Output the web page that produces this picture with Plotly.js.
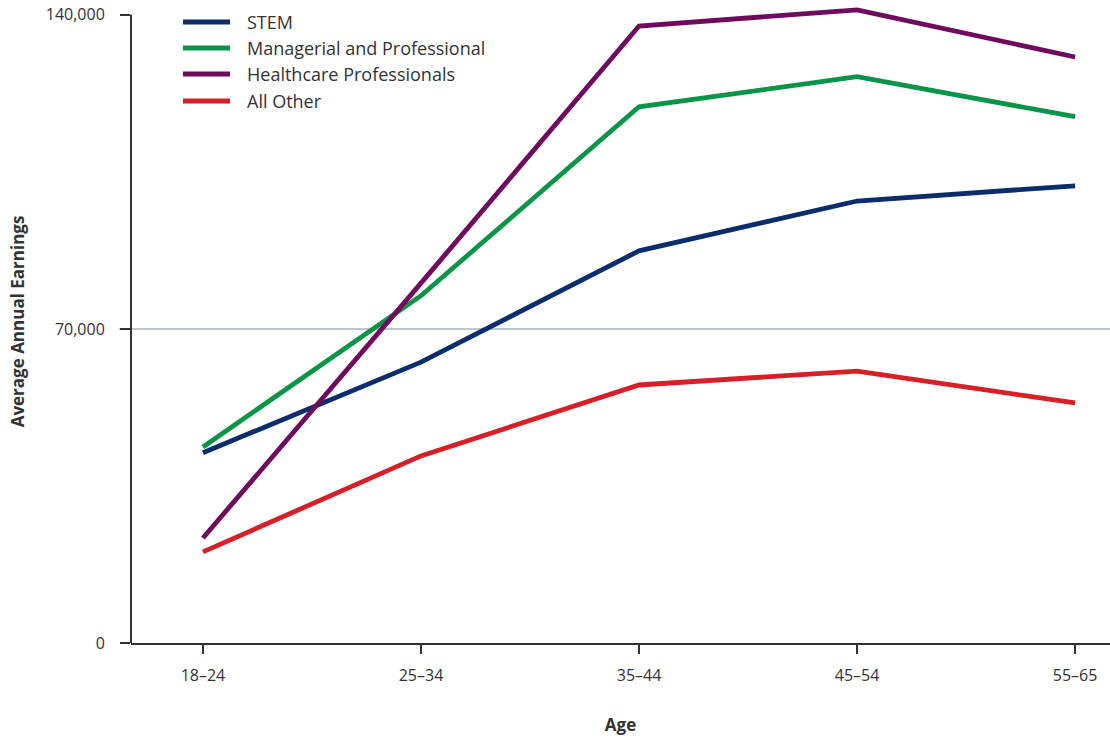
<!DOCTYPE html>
<html>
<head>
<meta charset="utf-8">
<script src="https://cdn.plot.ly/plotly-3.0.1.min.js"></script>
<style>html,body{margin:0;padding:0;background:#fff;}#chart{width:1110px;height:738px;}</style>
</head>
<body>
<div id="chart"></div>
<script>
var ages = ["18–24", "25–34", "35–44", "45–54", "55–65"];
var stem = [42400, 62600, 87400, 98500, 101900];
var managerial = [43700, 77400, 119500, 126200, 117300];
var healthcare = [23400, 80200, 137500, 141100, 130600];
var allOther = [20300, 41700, 57500, 60600, 53500];
var seriesNames = ["STEM", "Managerial and Professional", "Healthcare Professionals", "All Other"];
var yTicks = [0, 70000, 140000];
var yTickText = ["0", "70,000", "140,000"];

var colors = ["#0b2d6b", "#0a9447", "#700a5e", "#d81e27"];
var values = [stem, managerial, healthcare, allOther];
var traces = values.map(function(v, i) {
  return {x: ages, y: v, type: "scatter", mode: "lines", name: seriesNames[i],
          line: {color: colors[i], width: 4.8}, showlegend: false};
});

// manual legend (pixel geometry converted to paper coords)
var L = 131, W = 979, H = 643;
function px(x) { return (x - L) / W; }
function py(y) { return (H - y) / H; }
var legRows = [22, 48, 74, 101];
var shapes = [
  {type: "line", xref: "paper", yref: "y", x0: -0.012, x1: 1, y0: 70000, y1: 70000,
   line: {color: "#b9c7d2", width: 2}, layer: "below"},
  {type: "line", xref: "paper", yref: "y", x0: 0, x1: 0, y0: 0, y1: 140000,
   line: {color: "#333", width: 2}}
];
var annotations = [];
seriesNames.forEach(function(n, i) {
  shapes.push({type: "line", xref: "paper", yref: "paper", x0: px(183), x1: px(230),
               y0: py(legRows[i]), y1: py(legRows[i]), line: {color: colors[i], width: 4.8}});
  annotations.push({xref: "paper", yref: "paper", x: px(245), y: py(legRows[i]), xanchor: "left",
                    yanchor: "middle", text: n, showarrow: false,
                    font: {size: 18, color: "#333", family: "'Open Sans', sans-serif"}});
});

var layout = {
  width: 1110, height: 738,
  margin: {l: 131, r: 0, t: 0, b: 95},
  paper_bgcolor: "#fff", plot_bgcolor: "#fff",
  font: {family: "'Open Sans', sans-serif", color: "#333"},
  showlegend: false,
  xaxis: {type: "category", range: [-0.33, 4.16], showgrid: false, zeroline: false,
          showline: true, linecolor: "#333", linewidth: 2,
          ticks: "outside", ticklen: 9, tickwidth: 2, tickcolor: "#333",
          ticklabelstandoff: 8,
          tickfont: {size: 16, color: "#333"},
          title: {text: "<b>Age</b>", font: {size: 17, color: "#333"}, standoff: 34}},
  yaxis: {range: [0, 143300], tickvals: yTicks, ticktext: yTickText, showgrid: false, zeroline: false,
          showline: false, ticks: "outside", ticklen: 10, tickwidth: 2, tickcolor: "#333",
          ticklabelstandoff: 12,
          tickfont: {size: 16, color: "#333"},
          title: {text: "<b>Average Annual Earnings</b>", font: {size: 17, color: "#333"}, standoff: 16}},
  shapes: shapes,
  annotations: annotations
};
Plotly.newPlot("chart", traces, layout, {displayModeBar: false, staticPlot: true});
</script>
</body>
</html>
